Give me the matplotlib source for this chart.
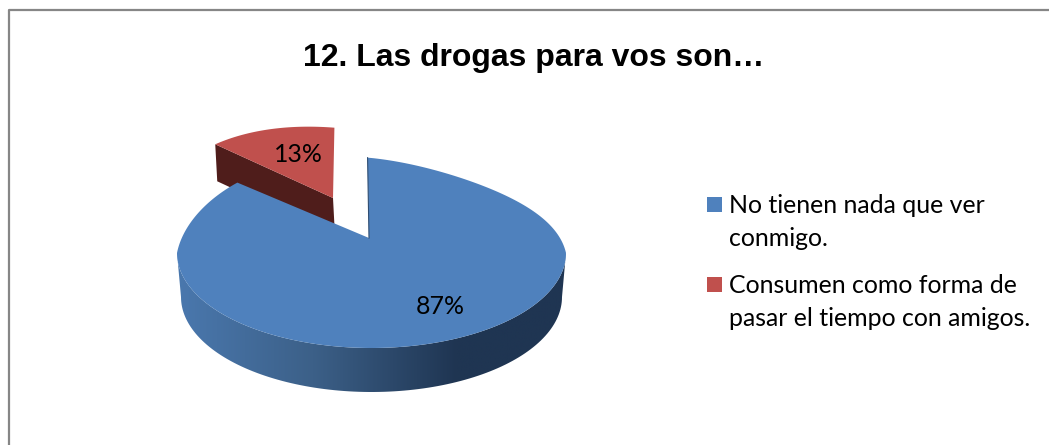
import numpy as np
import matplotlib
matplotlib.use("Agg")
import matplotlib.pyplot as plt
from matplotlib.patches import Polygon, Rectangle
from matplotlib.colors import LinearSegmentedColormap

title = "12. Las drogas para vos son…"
labels = ["No tienen nada que ver\nconmigo.", "Consumen como forma de\npasar el tiempo con amigos."]
values = [87, 13]
pct_labels = ["87%", "13%"]
colors = ["#4F81BD", "#C0504D"]


def rim(deg, cx, cy, rx, ry):
    # point on the tilted pie edge, deg clockwise from 12 o'clock
    t = np.radians(deg)
    s = np.sin(t)
    c = np.cos(t)
    back = c > 0
    x = cx + rx * s * np.where(back, 1 - 0.11 * c, 1)
    skew = np.where(s > 0, 18 * s * c ** 2, 14 * s * c)
    y = cy - ry * c + np.where(back, skew, 0)
    return x, y


fig = plt.figure(figsize=(10.49, 4.45), dpi=100)
ax = fig.add_axes([0, 0, 1, 1])
ax.set_xlim(0, 1049)
ax.set_ylim(445, 0)
ax.axis("off")

# chart frame
ax.plot([8.5, 8.5, 1049], [445, 10, 10], color="#868686", lw=1.6, solid_capstyle="butt")

start = -1.3
sweep = np.array(values) / sum(values) * 360
blue_end = start + sweep[0]

# exploded red slice
red_a = np.linspace(blue_end, blue_end + sweep[1], 40)
rx_, ry_ = rim(red_a, 338, 198, 178, 70)
ax.add_patch(Polygon([(rx_[0], ry_[0]), (rx_[0] + 2, ry_[0] + 37), (335, 236), (333, 198)],
                     closed=True, fc="#4F1D1B", ec="none", zorder=2))
ax.add_patch(Polygon(np.vstack([np.column_stack([rx_, ry_]), [[333, 198]]]), closed=True,
                     fc=colors[1], ec="none", zorder=3))

# blue side band, gradient left to right
side_a = np.linspace(90, 270, 120)
tx, ty = rim(side_a, 371.5, 253, 194.5, 95)
bx, by = rim(side_a[::-1], 371.5, 297, 190.5, 95)
band = Polygon(np.vstack([np.column_stack([tx, ty]), np.column_stack([bx, by])]), closed=True,
               fc="none", ec="none")
ax.add_patch(band)
side_cmap = LinearSegmentedColormap.from_list("side", [(0, "#4A78AE"), (0.35, "#3C6088"), (0.72, "#1F3552"), (1, "#1F3552")])
img = ax.imshow(np.linspace(0, 1, 256).reshape(1, -1), cmap=side_cmap, extent=(177, 566, 392, 250),
                aspect="auto", zorder=4)
img.set_clip_path(band)
ax.set_xlim(0, 1049)
ax.set_ylim(445, 0)

# blue top face
blue_a = np.linspace(start, blue_end, 300)
px, py = rim(blue_a, 371.5, 253, 194.5, 95)
ax.add_patch(Polygon(np.vstack([np.column_stack([px, py]), [[369, 238]]]), closed=True,
                     fc=colors[0], ec="none", zorder=5))
ax.plot([px[0], 369], [py[0], 238], color="#2F4D71", lw=0.8, zorder=6)

ax.text(440, 307, pct_labels[0], family="Lato", fontsize=17.9, ha="center", va="center", color="black", zorder=7)
ax.text(298, 154, pct_labels[1], family="Lato", fontsize=17.9, ha="center", va="center", color="black", zorder=7)

ax.text(534, 58, title, family="Liberation Sans", weight="bold", fontsize=23, ha="center", va="center", color="black")

# legend
for i, (lab, y0) in enumerate(zip(labels, [197, 277])):
    ax.add_patch(Rectangle((707, y0), 15, 15, fc=colors[i], ec="none"))
    ax.text(729, y0 + 25, lab, family="Lato", fontsize=17.9, ha="left", va="center", linespacing=1.5, color="black")

fig.savefig("out.png", dpi=100)
